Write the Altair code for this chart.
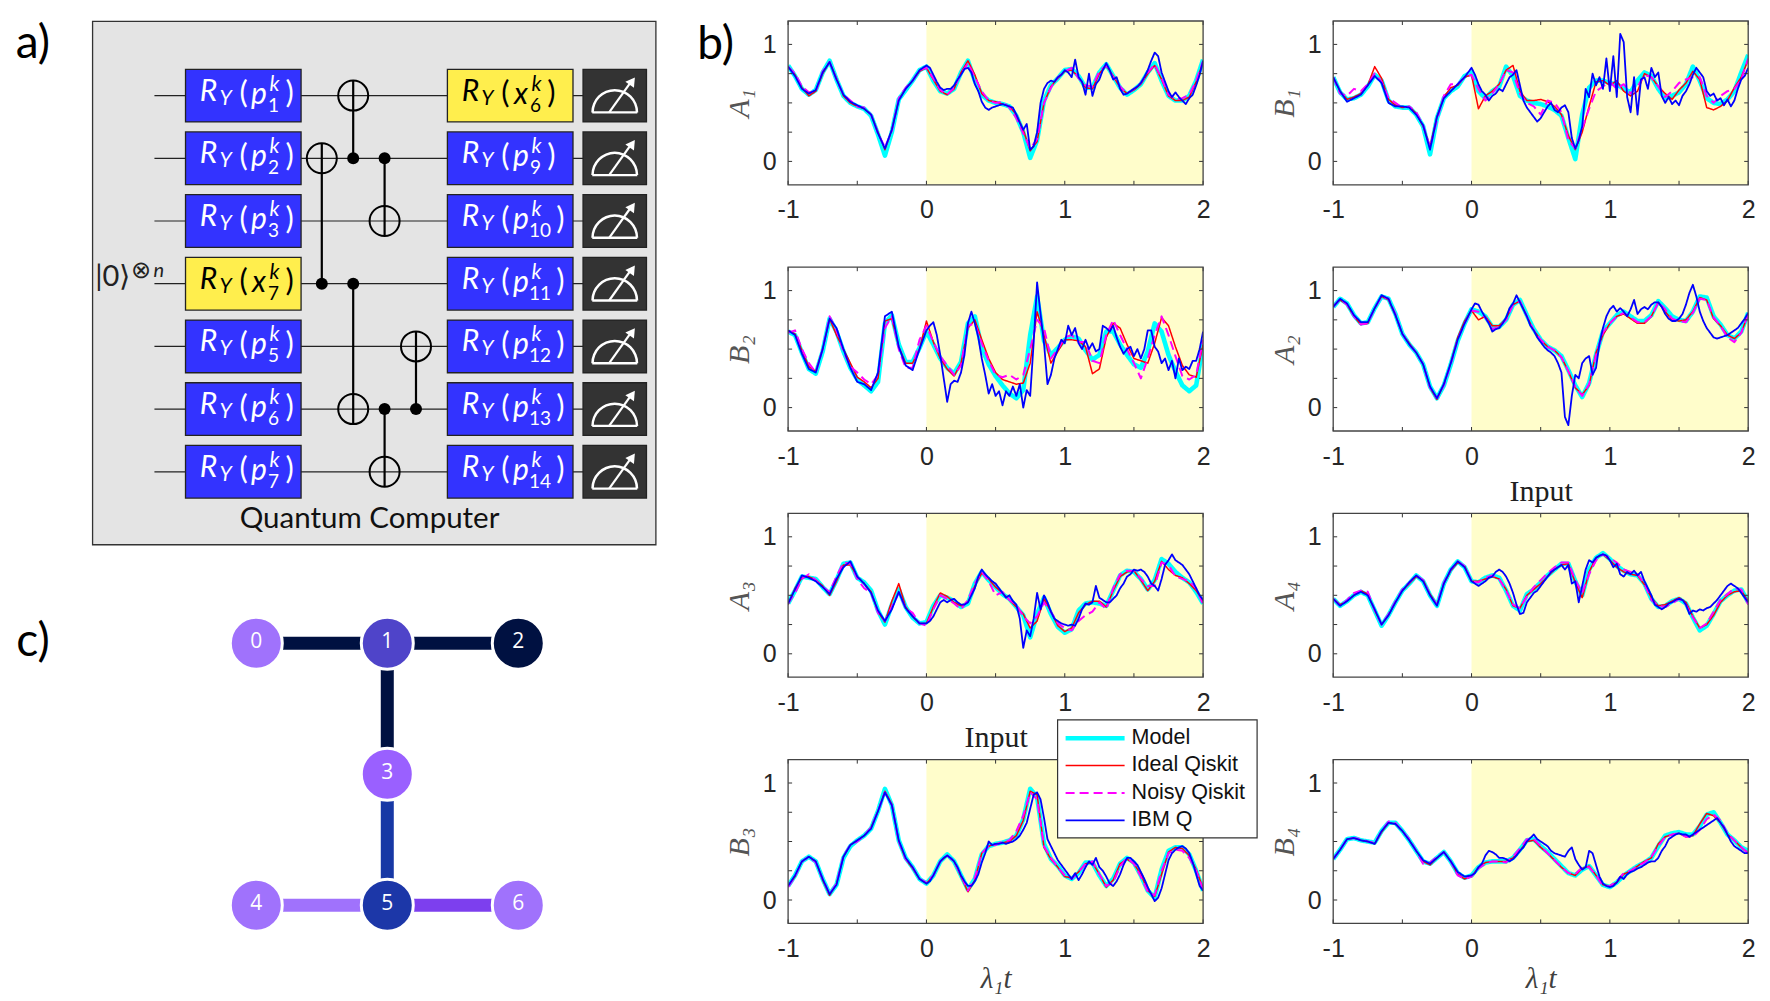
import altair as alt
import numpy as np
import pandas as pd

# ---------- series values (hundredths) ----------
A1_model = [82,73,62,57,61,76,86,70,56,50,47,45,39,23,5,25,53,61,69,78,81,69,60,58,62,76,86,69,57,52,50,49,47,39,25,3,18,52,65,71,78,79,73,63,63,76,83,73,63,57,61,66,76,84,69,56,52,52,56,69,87]
A1_ideal = [81,74,63,56,60,75,85,71,56,50,47,45,40,25,10,27,53,62,69,77,80,70,60,57,62,76,86,74,58,52,51,49,47,40,27,9,17,50,64,71,77,78,72,63,62,75,82,73,63,58,61,66,75,82,70,56,52,52,55,68,85]
A1_noisy = [81,75,64,59,60,77,85,70,57,52,47,46,40,24,12,26,54,63,69,78,80,71,61,57,63,75,84,72,60,52,50,51,46,37,24,11,19,50,63,72,77,80,71,65,64,77,82,72,64,58,62,67,76,83,71,57,53,54,57,69,86]
A1_ibm_neg = [81,73,62,58,61,76,85,70,57,51,48,45,40,24,11,27,52,62,69,78]
A1_ibm_pos = [82,80,74,68,63,61,62,62,65,70,74,79,80,76,66,60,51,46,44,46,47,48,49,48,47,46,40,33,27,32,10,13,25,50,62,67,69,68,72,74,78,76,72,87,72,68,57,75,56,66,70,78,84,78,70,72,62,57,58,60,62,64,67,72,78,86,93,90,76,68,60,55,59,55,52,49,54,57,65,74,86]

B1_model = [72,59,53,54,57,64,74,69,52,47,46,46,40,30,6,37,54,60,64,73,76,60,54,60,64,81,73,56,52,50,49,47,44,39,20,2,40,63,69,69,67,66,62,59,69,76,73,62,54,56,59,66,81,69,54,50,49,53,60,76,91]
B1_ideal = [72,60,53,55,58,65,81,71,53,48,46,47,41,30,13,38,55,63,65,72,74,45,56,60,66,78,82,60,52,52,53,51,47,40,22,10,25,47,68,69,65,69,60,56,60,75,72,64,58,53,61,67,77,70,46,44,47,52,63,72,87]
B1_noisy = [72,58,56,62,60,66,75,68,54,50,46,47,42,31,12,35,56,66,66,72,74,62,52,58,66,78,76,58,50,47,40,52,50,42,18,11,28,45,60,64,68,62,66,58,64,74,72,64,55,60,67,70,72,72,56,50,56,60,62,70,88]
B1_ibm_neg = [72,60,51,54,57,65,73,67,50,47,47,46,40,31,10,38,54,60,66,72]
B1_ibm_pos = [80,74,66,60,57,52,56,58,62,60,66,72,74,78,65,52,46,42,38,34,37,42,47,50,44,42,46,48,42,20,11,18,30,62,55,75,65,72,62,88,60,90,55,109,102,55,42,72,40,70,72,62,80,72,76,56,50,55,49,52,48,56,60,66,74,80,76,72,60,56,58,52,54,48,53,47,52,62,70,73,80]

B2_model = [65,62,47,33,29,48,76,65,48,34,24,19,14,22,72,79,54,39,39,51,65,54,42,34,29,39,72,78,51,37,27,19,12,8,15,62,95,57,45,51,58,61,59,49,41,45,65,65,54,45,37,34,48,72,65,45,31,19,14,19,54]
B2_ideal = [66,63,49,35,31,50,76,62,50,38,26,22,17,25,74,76,52,38,38,50,74,56,42,33,27,38,68,75,58,42,30,24,22,20,21,38,82,62,38,48,58,58,57,52,29,33,60,72,68,54,42,40,38,55,77,70,52,36,28,26,54]
B2_noisy = [64,66,50,38,30,50,78,66,48,35,30,24,20,28,68,78,50,34,34,58,70,56,44,36,28,36,70,72,55,40,28,26,28,24,28,50,75,68,42,50,60,62,56,56,40,38,62,75,62,50,38,25,42,62,78,62,44,27,24,28,58]
B2_ibm_neg = [66,62,46,33,30,50,76,68,50,34,22,20,15,30,78,82,52,36,32,50]
B2_ibm_pos = [66,70,73,62,45,25,5,20,23,22,
              30,45,72,82,72,60,42,28,12,20,
              10,14,2,14,10,18,10,20,0,15,
              10,55,107,80,55,20,28,42,50,58,
              55,70,62,68,55,50,58,50,55,48,
              50,70,68,65,70,60,52,46,50,52,
              44,50,42,50,66,66,52,48,38,42,
              32,40,25,42,32,35,33,40,40,50,
              65]

A2_model = [86,93,89,79,72,73,85,95,93,80,63,54,47,37,18,8,19,37,57,72,84,82,78,69,69,75,88,92,79,67,58,52,49,44,32,19,9,21,45,65,72,79,82,78,74,74,79,91,85,78,75,74,82,95,94,78,71,62,59,65,81]
A2_ideal = [87,92,88,78,71,72,85,95,92,79,63,55,47,37,17,7,20,38,60,74,83,75,78,70,70,76,88,91,78,66,58,52,49,43,31,17,11,19,47,62,72,78,80,76,72,72,78,90,82,75,74,75,82,94,92,76,70,62,59,64,80]
A2_noisy = [86,93,88,78,71,72,85,95,93,80,63,54,47,37,17,8,19,37,58,72,83,82,77,67,69,75,88,91,78,66,58,52,49,43,31,18,10,20,45,64,72,78,81,77,73,73,78,90,84,76,74,73,81,93,92,77,70,60,56,64,80]
A2_ibm_neg = [86,93,89,79,73,73,85,96,93,79,63,54,47,37,18,8,20,38,58,72]
A2_ibm_pos = [84,89,88,82,77,72,65,67,68,72,
              77,85,89,96,90,84,78,70,66,60,
              56,52,49,47,44,38,30,-8,-15,10,
              28,25,38,42,44,28,34,55,68,78,
              84,87,82,85,82,78,84,92,80,84,
              86,84,88,90,90,86,80,76,74,74,
              76,80,88,98,105,95,82,74,68,64,
              60,59,60,61,62,64,66,68,72,76,
              81]

A3_model = [43,54,66,65,64,57,51,63,77,78,65,61,54,37,25,42,55,40,31,26,27,41,50,48,45,40,43,60,70,63,57,51,47,40,33,14,34,48,34,23,18,21,37,43,44,43,41,54,67,71,70,64,55,63,81,77,70,65,61,53,43]
A3_ideal = [42,56,65,66,63,58,50,62,76,76,66,60,53,36,27,45,60,40,32,26,26,40,52,49,44,41,44,58,69,64,57,52,46,40,34,22,28,47,36,24,19,22,35,42,45,45,40,54,66,70,71,63,54,62,79,72,67,65,60,54,45]
A3_noisy = [43,52,64,68,63,57,53,66,78,77,64,56,52,35,28,40,52,39,35,26,24,38,50,47,43,38,46,60,70,62,50,53,46,42,32,26,32,44,36,26,22,20,28,33,36,44,38,56,68,71,71,64,58,58,78,76,66,64,62,56,42]
A3_ibm_neg = [43,55,67,65,62,57,51,64,74,79,66,60,52,37,28,38,53,39,32,26]
A3_ibm_pos = [26,28,32,38,44,46,44,46,47,44,
              42,42,44,50,56,66,72,68,65,62,
              60,56,52,48,50,45,42,30,5,20,
              15,30,52,38,50,44,36,30,28,26,
              25,24,25,24,30,38,43,42,44,58,
              48,46,44,44,47,50,56,60,66,68,
              72,71,72,70,66,60,58,54,64,76,
              80,85,80,78,76,72,68,62,56,50,
              46]

A4_model = [47,41,45,50,53,50,37,24,33,44,54,60,67,62,50,41,60,72,79,74,62,61,65,67,65,54,41,37,51,55,61,67,72,77,77,62,50,72,82,86,81,75,71,68,67,60,47,40,41,45,47,43,31,20,24,34,45,50,54,55,44]
A4_ideal = [47,42,45,50,54,51,37,25,33,44,54,60,66,63,51,42,60,71,78,75,62,62,64,66,64,55,41,39,50,55,60,66,72,76,77,61,48,70,82,85,80,74,70,68,67,59,48,41,42,45,48,44,32,22,25,33,44,50,53,54,45]
A4_noisy = [47,41,46,52,54,53,37,25,34,45,55,61,67,63,50,42,61,72,79,75,62,61,65,67,64,54,42,39,49,57,63,69,74,78,78,63,52,68,80,85,82,78,72,70,68,60,46,41,40,43,47,42,31,22,26,36,46,51,56,55,42]
A4_ibm_neg = [47,41,45,50,53,50,38,25,33,44,54,61,67,62,50,41,60,72,79,74]
A4_ibm_pos = [62,60,58,60,62,65,66,70,72,70,
              66,60,52,42,34,35,44,48,52,54,
              58,62,66,70,72,74,76,72,76,60,
              62,44,58,72,80,78,82,84,85,84,
              80,74,77,68,66,70,68,71,67,70,
              62,56,50,42,40,38,40,43,44,46,
              47,46,42,34,37,36,38,37,39,40,
              43,46,50,54,58,60,58,56,52,48,
              44]

B3_model = [12,21,33,37,33,18,5,13,36,46,51,55,61,76,95,81,51,36,28,18,14,21,33,39,33,21,9,18,39,46,48,49,51,55,69,95,88,48,35,29,21,18,23,32,32,21,12,18,31,36,32,21,8,2,26,42,45,45,39,25,8]
B3_ideal = [12,20,33,37,33,17,4,14,37,47,51,55,62,76,93,82,50,35,27,18,14,21,33,38,33,20,7,17,40,46,48,49,50,55,68,93,90,45,35,28,20,19,24,31,32,22,11,17,31,35,31,22,8,3,22,41,45,44,38,26,10]
B3_noisy = [11,20,33,37,32,18,5,14,38,47,50,55,62,76,92,81,50,35,28,18,15,21,33,38,33,21,8,19,40,46,47,50,51,59,72,92,86,46,36,28,21,18,24,31,33,22,12,15,29,36,31,20,7,4,25,40,43,42,36,25,9]
B3_ibm_neg = [12,21,33,37,33,18,5,13,37,47,51,55,61,76,92,81,51,36,28,18]
B3_ibm_pos = [14,16,21,27,33,36,38,36,33,28,
              21,16,12,12,16,22,32,40,50,47,
              48,48,49,48,49,50,52,55,60,66,
              78,90,92,86,70,52,46,40,34,30,
              26,22,18,23,17,22,28,33,30,36,
              28,25,20,14,12,16,22,30,36,36,
              33,30,24,18,11,5,-1,2,10,22,
              34,40,43,45,46,44,40,32,22,12,
              8]

B4_model = [35,43,52,53,51,50,49,59,66,66,59,51,42,33,31,36,41,33,23,19,21,28,32,33,33,33,36,43,51,52,46,41,35,29,23,21,26,29,21,13,11,15,21,25,29,32,36,46,55,57,58,56,56,63,73,75,66,56,51,45,42]
B4_ideal = [35,43,52,53,51,50,48,58,66,65,59,51,42,33,30,36,41,33,22,18,20,28,32,33,33,33,36,42,50,51,45,40,34,28,23,21,27,29,21,13,12,15,22,25,29,33,36,48,54,56,57,54,55,65,74,72,66,56,51,45,40]
B4_noisy = [35,43,52,53,52,50,49,59,67,66,59,52,42,31,32,37,41,33,21,18,20,27,31,33,33,32,37,44,52,52,46,40,34,28,23,22,28,28,21,12,12,16,23,25,29,32,37,46,54,56,57,54,54,60,69,73,68,57,51,45,40]
B4_ibm_neg = [35,43,52,53,51,50,48,59,66,65,59,51,42,34,31,36,41,33,24,20]
B4_ibm_pos = [21,23,28,31,38,42,41,39,36,36,
              35,33,35,38,42,45,50,53,56,52,
              50,48,46,42,40,39,38,37,42,45,
              35,30,26,28,42,40,30,20,14,12,
              11,12,15,20,18,22,24,25,27,28,
              30,32,33,33,36,42,46,52,54,56,
              57,56,56,54,56,58,60,62,64,66,
              68,70,66,62,56,50,46,44,42,40,
              40]

PANELS = [
    ("A", "1", A1_model, A1_ideal, A1_noisy, A1_ibm_neg, A1_ibm_pos, None),
    ("B", "1", B1_model, B1_ideal, B1_noisy, B1_ibm_neg, B1_ibm_pos, None),
    ("B", "2", B2_model, B2_ideal, B2_noisy, B2_ibm_neg, B2_ibm_pos, None),
    ("A", "2", A2_model, A2_ideal, A2_noisy, A2_ibm_neg, A2_ibm_pos, "Input"),
    ("A", "3", A3_model, A3_ideal, A3_noisy, A3_ibm_neg, A3_ibm_pos, "Input"),
    ("A", "4", A4_model, A4_ideal, A4_noisy, A4_ibm_neg, A4_ibm_pos, None),
    ("B", "3", B3_model, B3_ideal, B3_noisy, B3_ibm_neg, B3_ibm_pos, "\u03bb\u2081t"),
    ("B", "4", B4_model, B4_ideal, B4_noisy, B4_ibm_neg, B4_ibm_pos, "\u03bb\u2081t"),
]
SUBS = {"1": "\u2081", "2": "\u2082", "3": "\u2083", "4": "\u2084"}
SERIES = ["Model", "Ideal Qiskit", "Noisy Qiskit", "IBM Q"]
COLORS = ["#00FFFF", "#FF0000", "#FF00FF", "#0000FF"]
WIDTHS = [4.6, 1.5, 2.0, 1.8]
DASHES = [[1, 0], [1, 0], [9, 5], [1, 0]]
X_TICKS = [-1, -0.5, 0, 0.5, 1, 1.5, 2]
Y_TICKS = [0, 0.25, 0.5, 0.75, 1]
X_LABELS = [-1, 0, 1, 2]
Y_LABELS = [0, 1]

W, H = 415, 163.8
W0 = 646.4
SANS = "Liberation Sans"
SERIF = "Liberation Serif"
SCHEME = "Lato"
INK = "#404040"
LABEL_EXPR = "datum.value < 0 ? '-' + abs(datum.value) : '' + datum.value"


def legend_layers():
    one = pd.DataFrame({"x": [0]})
    out = [alt.Chart(one).mark_rect(fill="white", stroke="#333333", strokeWidth=1.2).encode(
        x=alt.value(269.5), x2=alt.value(469), y=alt.value(-39.7), y2=alt.value(78.3))]
    row_y = [-21.3, 5.8, 33.3, 60.8]
    for name, col, wd, dash, ry in zip(SERIES, COLORS, WIDTHS, DASHES, row_y):
        out.append(alt.Chart(one).mark_rule(color=col, strokeWidth=wd, strokeDash=dash).encode(
            x=alt.value(277.5), x2=alt.value(336.5), y=alt.value(ry)))
        out.append(alt.Chart(pd.DataFrame({"t": [name]})).mark_text(
            font=SANS, fontSize=21.5, color="#111111", align="left", baseline="middle").encode(
            x=alt.value(343.5), y=alt.value(ry), text="t:N"))
    return out


def plot_panel(letter, idx, model, ideal, noisy, ibm_neg, ibm_pos, xtitle, extra=None):
    rows = []
    for name, vals in zip(SERIES[:3], (model, ideal, noisy)):
        for x, v in zip(np.linspace(-1, 2, len(vals)), vals):
            rows.append((float(x), v / 100, name))
    xb = list(np.linspace(-1, -0.05, len(ibm_neg))) + list(np.linspace(0, 2, len(ibm_pos)))
    for x, v in zip(xb, list(ibm_neg) + list(ibm_pos)):
        rows.append((float(x), v / 100, SERIES[3]))
    df = pd.DataFrame(rows, columns=["x", "y", "series"])

    xs = alt.Scale(domain=[-1, 2], nice=False, zero=False)
    ys = alt.Scale(domain=[-0.2, 1.2], nice=False, zero=False)
    is_input = xtitle == "Input"
    xax = alt.Axis(values=X_LABELS, ticks=False, domain=False, grid=False, labelFlush=False, labelOverlap=False,
                   labelFont=SANS, labelFontSize=25, labelColor="#262626", labelPadding=13, labelExpr=LABEL_EXPR,
                   title=xtitle if xtitle else None, titleFont=SERIF, titleFontSize=30 if is_input else 29,
                   titleFontWeight="normal", titleFontStyle="normal" if is_input else "italic",
                   titleColor="#202020" if is_input else INK, titlePadding=7 if is_input else 3)
    yax = alt.Axis(values=Y_LABELS, ticks=False, domain=False, grid=False, labelFlush=False, labelOverlap=False,
                   labelFont=SANS, labelFontSize=25, labelColor="#262626", labelPadding=12, labelExpr=LABEL_EXPR,
                   title=letter + SUBS[idx], titleFont=SERIF, titleFontSize=30, titleFontWeight="normal",
                   titleFontStyle="italic", titleColor="#555555", titlePadding=8)
    X = alt.X("x:Q", scale=xs, axis=xax)
    Y = alt.Y("y:Q", scale=ys, axis=yax)

    band = alt.Chart(pd.DataFrame({"x": [0], "x2": [2]})).mark_rect(color="#FFFDCB").encode(
        x=X, x2="x2:Q", y=alt.value(0), y2=alt.value(H))
    lines = alt.Chart(df).mark_line(clip=True, strokeJoin="round", opacity=1).encode(
        x=X, y=Y,
        color=alt.Color("series:N", scale=alt.Scale(domain=SERIES, range=COLORS), legend=None),
        strokeWidth=alt.StrokeWidth("series:N", scale=alt.Scale(type="ordinal", domain=SERIES, range=WIDTHS), legend=None),
        strokeDash=alt.StrokeDash("series:N", scale=alt.Scale(domain=SERIES, range=DASHES), legend=None),
    )
    xt = pd.DataFrame({"x": X_TICKS})
    yt = pd.DataFrame({"y": Y_TICKS})
    tick = dict(color="#333333", strokeWidth=1)
    layers = [
        band, lines,
        alt.Chart(xt).mark_rule(**tick).encode(x=X, y=alt.value(H), y2=alt.value(H - 4)),
        alt.Chart(xt).mark_rule(**tick).encode(x=X, y=alt.value(0), y2=alt.value(4)),
        alt.Chart(yt).mark_rule(**tick).encode(y=Y, x=alt.value(0), x2=alt.value(4)),
        alt.Chart(yt).mark_rule(**tick).encode(y=Y, x=alt.value(W), x2=alt.value(W - 4)),
        alt.Chart(xt.head(1)).mark_rect(fillOpacity=0, stroke="#444444", strokeWidth=1.3).encode(
            x=alt.value(0), x2=alt.value(W), y=alt.value(0), y2=alt.value(H)),
    ]
    if extra is not None:
        layers.extend(extra)
    return alt.layer(*layers).properties(width=W, height=H)


# ---------- panel a: circuit in logical units (column, wire) ----------
WIRES = list(range(7))
FIRST_ARGS = [("p", "1"), ("p", "2"), ("p", "3"), ("x", "7"), ("p", "5"), ("p", "6"), ("p", "7")]
SECOND_ARGS = [("x", "6"), ("p", "9"), ("p", "10"), ("p", "11"), ("p", "12"), ("p", "13"), ("p", "14")]
CNOTS = [(0, 3, 1), (1, 1, 0), (2, 1, 2), (1, 3, 5), (3, 5, 4), (2, 5, 6)]
COL_PX, WIRE_PX = 31.4, 62.7
BLUE, YELLOW, DARK = "#3333FF", "#FFEE4D", "#333333"
G1 = (-4.34, -0.66)
G2 = (4.0, 8.0)
G3 = (8.32, 10.34)
HALF = 0.42
axa = alt.Scale(domain=[-9.898, 10.688], nice=False, zero=False)
aya = alt.Scale(domain=[-1.19, 1.4226], reverse=True, nice=False, zero=False)
AX = lambda f: alt.X(f + ":Q", scale=axa, axis=None)
AY = lambda f: alt.Y(f + ":Q", scale=aya, axis=None)

frame = pd.DataFrame({"x0": [-7.3], "x1": [10.64], "y0": [-1.184], "y1": [7.164]})
gates = []
for w in WIRES:
    gates.append((G1[0], G1[1], w - HALF, w + HALF, YELLOW if FIRST_ARGS[w][0] == "x" else BLUE))
    gates.append((G2[0], G2[1], w - HALF, w + HALF, YELLOW if SECOND_ARGS[w][0] == "x" else BLUE))
    gates.append((G3[0], G3[1], w - HALF, w + HALF, DARK))
gates = pd.DataFrame(gates, columns=["x0", "x1", "y0", "y1", "c"])
wires = pd.DataFrame({"x0": [-5.33] * 7, "x1": [8.32] * 7, "y": WIRES})
ctrl = pd.DataFrame([(c, a, b + (0.24 if b > a else -0.24)) for c, a, b in CNOTS], columns=["x", "y0", "y1"])
dots = pd.DataFrame([(c, a) for c, a, b in CNOTS], columns=["x", "y"])
targets = pd.DataFrame([(c, b) for c, a, b in CNOTS], columns=["x", "y"])

big_it, small_it, big_up, small_up = [], [], [], []
for w in WIRES:
    for (left, (kind, n)) in ((G1[0], FIRST_ARGS[w]), (G2[0], SECOND_ARGS[w])):
        col = "black" if kind == "x" else "white"
        px = lambda o: left + o / COL_PX
        py = lambda o: w + o / WIRE_PX
        two = len(n) > 1
        big_it.append((px(23), py(-4), "R", col))
        small_it.append((px(40), py(3), "Y", col))
        big_up.append((px(58), py(-1.5), "(", col))
        big_it.append((px(73.5), py(-1), kind, col))
        small_it.append((px(89), py(-11), "k", col))
        small_up.append((px(92.5 if two else 88), py(10), n, col))
        big_up.append((px(113 if two else 104), py(-1.5), ")", col))
cols = ["x", "y", "t", "c"]


def txt(rows, size, style):
    return alt.Chart(pd.DataFrame(rows, columns=cols)).mark_text(
        font=SCHEME, fontSize=size, fontStyle=style, baseline="middle", align="center").encode(
        x=AX("x"), y=AY("y"), text="t:N", color=alt.Color("c:N", scale=None))


mx = (G3[0] + G3[1]) / 2
meter_base = pd.DataFrame({"x0": [mx - 22.5 / COL_PX] * 7, "x1": [mx + 22.5 / COL_PX] * 7,
                           "y": [w + 16.8 / WIRE_PX for w in WIRES]})
meter_needle = pd.DataFrame({"x0": [mx - 5.6 / COL_PX] * 7, "x1": [mx + 17.5 / COL_PX] * 7,
                             "y0": [w + 16.8 / WIRE_PX for w in WIRES],
                             "y1": [w - 15.5 / WIRE_PX for w in WIRES]})
meter_tip = pd.DataFrame({"x": [mx + 17.5 / COL_PX] * 7, "y": [w - 14.5 / WIRE_PX for w in WIRES]})
meter_arc = pd.DataFrame({"x": [mx] * 7, "y": [w + 16.8 / WIRE_PX for w in WIRES]})

panel_a = alt.layer(
    alt.Chart(frame).mark_rect(color="#E4E4E4", stroke="#333333", strokeWidth=1.3).encode(
        x=AX("x0"), x2="x1:Q", y=AY("y0"), y2="y1:Q"),
    alt.Chart(wires).mark_rule(color="#222222", strokeWidth=1.2).encode(x=AX("x0"), x2="x1:Q", y=AY("y")),
    alt.Chart(gates).mark_rect(stroke="#222222", strokeWidth=1.3).encode(
        x=AX("x0"), x2="x1:Q", y=AY("y0"), y2="y1:Q", color=alt.Color("c:N", scale=None)),
    alt.Chart(ctrl).mark_rule(color="black", strokeWidth=2.2).encode(x=AX("x"), y=AY("y0"), y2="y1:Q"),
    alt.Chart(dots).mark_point(filled=True, color="black", size=144, opacity=1).encode(x=AX("x"), y=AY("y")),
    alt.Chart(targets).mark_point(filled=False, color="black", size=900, strokeWidth=2, opacity=1).encode(
        x=AX("x"), y=AY("y")),
    txt(big_it, 30, "italic"), txt(small_it, 21, "italic"), txt(big_up, 31, "normal"), txt(small_up, 19, "normal"),
    alt.Chart(meter_base).mark_rule(color="white", strokeWidth=2.4).encode(x=AX("x0"), x2="x1:Q", y=AY("y")),
    alt.Chart(meter_needle).mark_rule(color="white", strokeWidth=2.2).encode(
        x=AX("x0"), x2="x1:Q", y=AY("y0"), y2="y1:Q"),
    alt.Chart(meter_tip).mark_point(shape="triangle-up", filled=True, color="white", size=110, angle=35, opacity=1).encode(
        x=AX("x"), y=AY("y")),
    alt.Chart(meter_arc).mark_arc(color="white", radius=23.5, radius2=21, theta=4.712, theta2=7.854).encode(
        x=AX("x"), y=AY("y")),
    txt([(-6.66, 2.9, "|0\u27e9", "#222222")], 29, "normal"),
    txt([(-5.76, 2.79, "\u2297", "#222222")], 24, "normal"),
    txt([(-5.19, 2.79, "n", "#222222")], 20, "italic"),
    txt([(1.52, 6.76, "Quantum Computer", "#111111")], 29.5, "normal"),
    alt.Chart(pd.DataFrame({"x": [-9.2], "y": [-0.823], "t": ["a)"]})).mark_text(
        font=SCHEME, fontSize=46, baseline="middle", color="black").encode(x=AX("x"), y=AY("y"), text="t:N"),
).properties(width=W0, height=H)

# ---------- panel c: device map in grid units ----------
NODES = ["0", "1", "2", "3", "4", "5", "6"]
NODE_X = [0, 1, 2, 1, 0, 1, 2]
NODE_Y = [0, 0, 0, 1, 2, 2, 2]
NODE_C = ["#A072FC", "#4F44C9", "#001141", "#9A60FF", "#A072FC", "#1C37A8", "#A072FC"]
EDGES = [(0, 1, "#001141"), (1, 2, "#001141"), (1, 3, "#001141"), (3, 5, "#1738A5"), (4, 5, "#A072FC"), (5, 6, "#7D3FEE")]
cxs = alt.Scale(domain=[-1.8725, 3.062], nice=False, zero=False)
cys = alt.Scale(domain=[-0.991, 0.2595], reverse=True, nice=False, zero=False)
CX = lambda f: alt.X(f + ":Q", scale=cxs, axis=None)
CY = lambda f: alt.Y(f + ":Q", scale=cys, axis=None)
edges = pd.DataFrame([(NODE_X[a], NODE_X[b], NODE_Y[a], NODE_Y[b], c) for a, b, c in EDGES],
                     columns=["x0", "x1", "y0", "y1", "c"])
nodes = pd.DataFrame({"x": NODE_X, "y": NODE_Y, "c": NODE_C, "t": NODES})
panel_c = alt.layer(
    alt.Chart(edges).mark_rule(strokeWidth=13).encode(
        x=CX("x0"), x2="x1:Q", y=CY("y0"), y2="y1:Q", color=alt.Color("c:N", scale=None)),
    alt.Chart(nodes).mark_point(filled=True, size=2704, stroke="white", strokeWidth=3, opacity=1).encode(
        x=CX("x"), y=CY("y"), fill=alt.Fill("c:N", scale=None)),
    alt.Chart(nodes).mark_text(font="Open Sans", fontSize=21, color="white", baseline="middle", dy=-1).encode(
        x=CX("x"), y=CY("y"), text="t:N"),
    alt.Chart(pd.DataFrame({"x": [-1.705], "y": [-0.01], "t": ["c)"]})).mark_text(
        font=SCHEME, fontSize=46, baseline="middle", color="black").encode(x=CX("x"), y=CY("y"), text="t:N"),
).properties(width=W0, height=H)


def blank():
    return alt.Chart(pd.DataFrame({"x": [0]})).mark_point(opacity=0).encode(
        x=alt.value(0), y=alt.value(0)).properties(width=W0, height=H)


b_label = alt.Chart(pd.DataFrame({"t": ["b)"]})).mark_text(
    font=SCHEME, fontSize=46, baseline="middle", color="black").encode(
    x=alt.value(-72.5), y=alt.value(24), text="t:N")

cells = [
    panel_a, plot_panel(*PANELS[0], extra=[b_label]), plot_panel(*PANELS[1]),
    blank(), plot_panel(*PANELS[2]), plot_panel(*PANELS[3]),
    panel_c, plot_panel(*PANELS[4]), plot_panel(*PANELS[5]),
    blank(), plot_panel(*PANELS[6], extra=legend_layers()), plot_panel(*PANELS[7]),
]
chart = alt.concat(*cells, columns=3, bounds="flush", spacing={"column": 130.1, "row": 82.2},
                   padding={"left": 0, "top": 12, "right": 0, "bottom": 0}).configure_view(stroke=None)
chart.save("out.html", embed_options={"renderer": "svg", "actions": False})
